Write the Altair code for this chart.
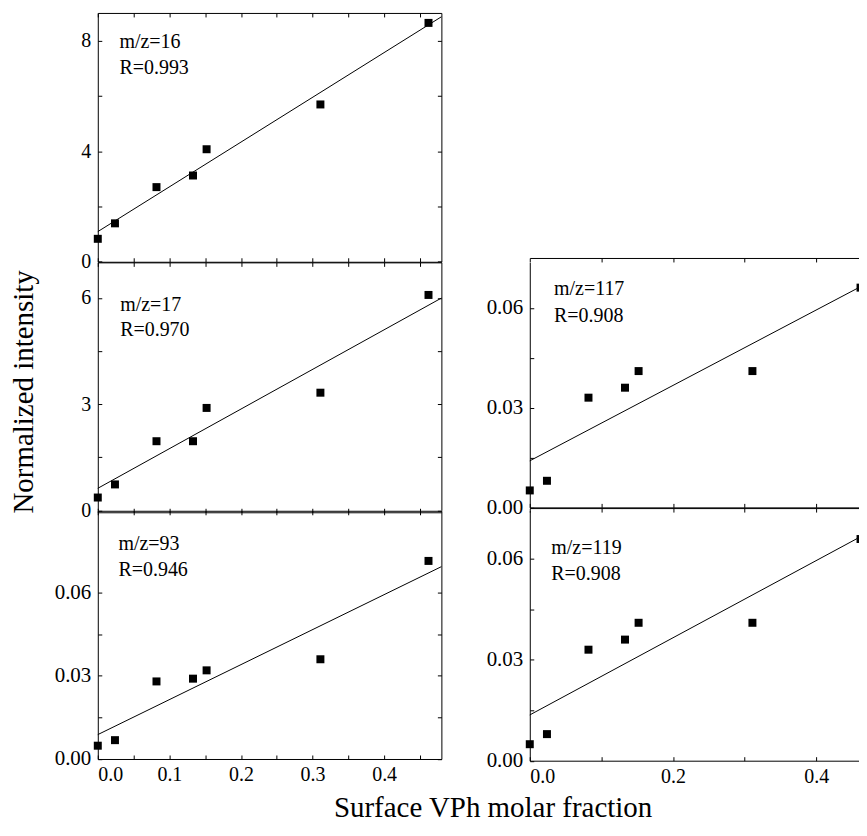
import altair as alt
import pandas as pd

# ---------------- data ----------------
x_frac = [0.0, 0.024, 0.082, 0.133, 0.152, 0.311, 0.462]
y_mz16 = [0.83, 1.39, 2.70, 3.12, 4.07, 5.69, 8.64]
y_mz17 = [0.36, 0.73, 1.95, 1.95, 2.89, 3.32, 6.08]
y_mz93 = [0.0048, 0.0068, 0.028, 0.029, 0.032, 0.036, 0.0715]
y_mz117 = [0.0051, 0.0080, 0.033, 0.036, 0.041, 0.041, 0.0661]
y_mz119 = [0.0049, 0.0079, 0.033, 0.036, 0.041, 0.041, 0.0659]

mz_labels = ["m/z=16", "m/z=17", "m/z=93", "m/z=117", "m/z=119"]
r_labels = ["R=0.993", "R=0.970", "R=0.946", "R=0.908", "R=0.908"]

# linear fits drawn in the figure (intercept, slope)
fit_intercept = [1.09, 0.62, 0.0088, 0.0140, 0.0136]
fit_slope = [16.19, 11.19, 0.1263, 0.1134, 0.1147]

x_title = "Surface VPh molar fraction"
y_title = "Normalized intensity"

FONT = "Liberation Serif"
NEG_TICK = alt.ExprRef(expr="-4")


def panel(i, ys, ymax, yvals, ylabel_expr, xmax, xvals, xlabel_expr, show_xlabels,
          width, height, text_xy, ylab_size, ytitle_opts=None, xtitle_opts=None,
          right_side=True, bottom_offset=0, top_offset=0):
    pts = pd.DataFrame({"x": x_frac, "y": ys})
    line = pd.DataFrame({"x": [0.0, xmax],
                         "y": [fit_intercept[i], fit_intercept[i] + fit_slope[i] * xmax]})
    xscale = alt.Scale(domain=[0, xmax], nice=False, zero=False)
    yscale = alt.Scale(domain=[0, ymax], nice=False, zero=False)

    xaxis_kw = dict(orient="bottom", values=xvals, labels=show_xlabels, tickSize=NEG_TICK,
                    labelPadding=10, labelFontSize=20, grid=False, title="",
                    offset=bottom_offset)
    if show_xlabels:
        xaxis_kw["labelExpr"] = xlabel_expr
    if xtitle_opts:
        xaxis_kw.update(xtitle_opts)
    yaxis_kw = dict(orient="left", values=yvals, labelExpr=ylabel_expr, tickSize=NEG_TICK,
                    labelPadding=11, labelFontSize=ylab_size, grid=False, title="")
    if ytitle_opts:
        yaxis_kw.update(ytitle_opts)

    points = alt.Chart(pts).mark_square(size=64, color="black", opacity=1, filled=True).encode(
        x=alt.X("x:Q", scale=xscale, axis=alt.Axis(**xaxis_kw)),
        y=alt.Y("y:Q", scale=yscale, axis=alt.Axis(**yaxis_kw)),
    )
    fit = alt.Chart(line).mark_line(color="black", strokeWidth=1).encode(
        x=alt.X("x:Q", scale=xscale,
                axis=alt.Axis(orient="top", values=xvals, labels=False, tickSize=NEG_TICK,
                              grid=False, title="", offset=top_offset)),
        y=alt.Y("y:Q", scale=yscale,
                axis=alt.Axis(orient="right", values=yvals, labels=False, tickSize=NEG_TICK,
                              grid=False, title="", domain=right_side, ticks=right_side)),
    )
    txt = pd.DataFrame({"t": [mz_labels[i], r_labels[i]]})
    t1 = alt.Chart(txt.iloc[[0]]).mark_text(
        align="left", baseline="middle", font=FONT, fontSize=20, color="black"
    ).encode(text="t:N", x=alt.value(text_xy[0]), y=alt.value(text_xy[1]))
    t2 = alt.Chart(txt.iloc[[1]]).mark_text(
        align="left", baseline="middle", font=FONT, fontSize=20, color="black"
    ).encode(text="t:N", x=alt.value(text_xy[0]), y=alt.value(text_xy[2]))
    return alt.layer(points, fit, t1, t2).resolve_axis(x="independent", y="independent").properties(
        width=width, height=height)


LW = 344.4
RW = 336.2
XL = [0, 0.05, 0.1, 0.15, 0.2, 0.25, 0.3, 0.35, 0.4, 0.45]
XR = [0, 0.1, 0.2, 0.3, 0.4]
xl_expr = "round(datum.value*100) % 10 == 0 ? format(datum.value, '.1f') : ''"
xr_expr = "round(datum.value*10) % 2 == 0 ? format(datum.value, '.1f') : ''"
dec_vals = [0, 0.015, 0.03, 0.045, 0.06]
dec_expr = "round(datum.value/0.015) % 2 == 0 ? format(datum.value, '.2f') : ''"

p1 = panel(0, y_mz16, 9, [0, 2, 4, 6, 8],
           "round(datum.value) % 4 == 0 ? format(datum.value, 'd') : ''",
           0.48, XL, xl_expr, False, LW, 249.4, (21.7, 28.7, 54.7), 20)
p2 = panel(1, y_mz17, 7, [0, 1.5, 3, 4.5, 6],
           "round(datum.value/1.5) % 2 == 0 ? format(datum.value, 'd') : ''",
           0.48, XL, xl_expr, False, LW, 248.5, (22.4, 42.3, 68.3), 20,
           ytitle_opts=dict(title=y_title, titleFont=FONT, titleFontSize=29,
                            titleFontWeight="normal", titleX=-74.3, titleY=129.3,
                            titleAlign="center", titleBaseline="middle", titleAngle=270),
           bottom_offset=2)
p3 = panel(2, y_mz93, 0.0896, dec_vals, dec_expr,
           0.48, XL, xl_expr, True, LW, 248.8, (20.7, 33.7, 59.4), 21,
           xtitle_opts=dict(title=x_title, titleFont=FONT, titleFontSize=29,
                            titleFontWeight="normal", titleX=395.7, titleY=58,
                            titleAlign="center", titleBaseline="alphabetic"))
# right column: rows are shared with the left column, so the right panels start
# 4.4 px (row 2) and 2.7 px (row 3) lower; their top frame is lifted by an axis offset
p4 = panel(3, y_mz117, 0.0737, dec_vals, dec_expr,
           0.4685, XR, xr_expr, False, RW, 245.6, (24.3, 26.6, 53.3), 21,
           right_side=False, top_offset=4.4)
p5 = panel(4, y_mz119, 0.0743, dec_vals, dec_expr,
           0.4685, XR, xr_expr, True, RW, 250.5, (21.6, 37.1, 63.8), 21,
           right_side=False, top_offset=2.7)

spacer = alt.Chart(pd.DataFrame({"v": [0]})).mark_point(opacity=0).encode(
    x=alt.X("v:Q", axis=None), y=alt.Y("v:Q", axis=None)
).properties(width=RW, height=240)

chart = alt.concat(
    p1, spacer, p2, p4, p3, p5,
    columns=2, spacing={"row": 0, "column": 88}, bounds="flush", align="none"
).properties(
    padding={"left": 1, "top": 3, "right": -9, "bottom": 0}
).configure_view(stroke=None).configure_axis(
    labelFont=FONT, titleFont=FONT, labelColor="black", titleColor="black",
    domainColor="black", tickColor="black", domainWidth=1, tickWidth=1
)

chart.save("out.html", embed_options={"renderer": "svg", "actions": False})
